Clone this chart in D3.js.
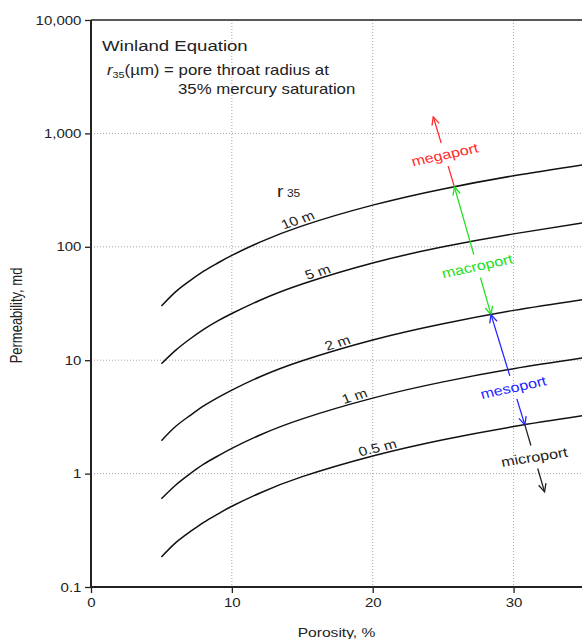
<!DOCTYPE html>
<html lang="en">
<head>
<meta charset="UTF-8">
<script src="https://cdnjs.cloudflare.com/ajax/libs/d3/7.8.5/d3.min.js"></script>
<style>
    body { margin: 0; background: #fff; }
    text { font-family: "Liberation Sans", Arial, sans-serif; fill: #222; }
</style>
</head>
<body>
<div id="plot"></div>
<script>
    // values (porosity %, permeability md)
    var porosity = [5, 6, 7, 8, 9, 10, 12, 15, 20, 25, 30, 35];
    var perm10 = [30, 40, 50, 61, 72, 84, 110, 153, 233, 324, 423, 530];
    var perm5 = [9.3, 12.2, 15.3, 18.7, 22.2, 25.8, 33.8, 47, 72, 100, 130, 163];
    var perm2 = [1.95, 2.6, 3.23, 3.95, 4.68, 5.45, 7.15, 9.9, 15.1, 21, 27.5, 34.4];
    var perm1 = [0.6, 0.79, 0.99, 1.21, 1.43, 1.67, 2.19, 3.04, 4.63, 6.44, 8.41, 10.5];
    var perm05 = [0.184, 0.245, 0.305, 0.372, 0.44, 0.515, 0.675, 0.94, 1.43, 1.99, 2.6, 3.25];
    var curveNames = ["10 m", "5 m", "2 m", "1 m", "0.5 m"];
    var xTicks = [0, 10, 20, 30];
    var yTicks = [0.1, 1, 10, 100, 1000, 10000];
    var yTickLabels = ["0.1", "1", "10", "100", "1,000", "10,000"];
    var arrowNames = ["megaport", "macroport", "mesoport", "microport"];
    var arrowFrom = [[25.8, 338], [25.8, 338], [28.4, 25.2], [30.8, 2.69]];
    var arrowTo = [[24.3, 1400], [28.4, 25.2], [30.8, 2.69], [32.2, 0.69]];

    // annotation layout
    var curveLabelAt = [14.9, 16.3, 17.7, 18.9, 20.5];
    var arrowColors = ["#ff2a2a", "#22e022", "#2626ff", "#222222"];
    var arrowHeads = [[false, true], [true, true], [true, true], [false, true]];
    var arrowLabelT = [0.46, 0.62, 0.66, 0.48];
    var arrowLabelAngle = [-12, -12, -12, -9];

    var W = 582, H = 639, SX = 1.2; // text is stretched sideways in the original
    var series = [perm10, perm5, perm2, perm1, perm05];

    var svg = d3.select("#plot").append("svg")
        .attr("width", W)
        .attr("height", H);

    var x = d3.scaleLinear().domain([0, 35]).range([91, 584]);
    var y = d3.scaleLog().domain([0.1, 10000]).range([587, 20]);

    // (1) grid ____________________________________
    var grid = svg.append("g")
        .attr("stroke", "#a8a8a8")
        .attr("stroke-width", 1)
        .attr("stroke-dasharray", "1,2");
    grid.selectAll("line.v")
        .data(xTicks.slice(1))
        .enter().append("line")
        .attr("x1", d => x(d)).attr("x2", d => x(d))
        .attr("y1", y(10000)).attr("y2", y(0.1));
    grid.selectAll("line.h")
        .data(yTicks.slice(1, -1))
        .enter().append("line")
        .attr("x1", x(0)).attr("x2", W)
        .attr("y1", d => y(d)).attr("y2", d => y(d));

    // (2) axes ____________________________________
    var yAxis = svg.append("g")
        .attr("transform", "translate(" + x(0) + ",0)")
        .call(d3.axisLeft(y).tickValues(yTicks).tickFormat((d, i) => yTickLabels[i]).tickSize(6).tickPadding(2))
        .call(g => g.select(".domain").remove());
    var xAxis = svg.append("g")
        .attr("transform", "translate(0," + y(0.1) + ")")
        .call(d3.axisBottom(x).tickValues(xTicks).tickSize(6).tickPadding(5))
        .call(g => g.select(".domain").remove());
    [yAxis, xAxis].forEach(function (a) {
        a.attr("font-family", null).attr("font-size", null);
        a.selectAll("line").attr("stroke", "#222").attr("stroke-width", 1.3);
        a.selectAll("text")
            .attr("transform", "scale(" + SX + ",1)")
            .style("font-size", "12.5px");
    });

    var frame = svg.append("g").attr("stroke", "#222").attr("fill", "none");
    frame.append("line").attr("x1", x(0)).attr("x2", W).attr("y1", y(0.1)).attr("y2", y(0.1)).attr("stroke-width", 2);
    frame.append("line").attr("x1", x(0)).attr("x2", x(0)).attr("y1", y(10000)).attr("y2", y(0.1)).attr("stroke-width", 2);
    frame.append("line").attr("x1", x(0)).attr("x2", W).attr("y1", y(10000)).attr("y2", y(10000)).attr("stroke-width", 1.6);

    svg.append("text")
        .attr("transform", "translate(22," + ((y(10000) + y(0.1)) / 2 + 12) + ") scale(" + SX + ",1) rotate(-90)")
        .attr("text-anchor", "middle")
        .style("font-size", "13px")
        .text("Permeability, md");
    svg.append("text")
        .attr("transform", "translate(" + ((x(0) + W) / 2) + ",637) scale(" + SX + ",1)")
        .attr("text-anchor", "middle")
        .style("font-size", "13px")
        .text("Porosity, %");

    // (3) curves __________________________________
    var line = d3.line()
        .x((d, i) => x(porosity[i]))
        .y(d => y(d))
        .curve(d3.curveNatural);
    svg.append("g")
        .selectAll("path")
        .data(series)
        .enter().append("path")
        .attr("d", d => line(d))
        .attr("fill", "none")
        .attr("stroke", "#111")
        .attr("stroke-width", 1.5);

    function kAt(s, p) {
        var i = d3.bisectRight(porosity, p) - 1;
        i = Math.max(0, Math.min(i, porosity.length - 2));
        var t = (p - porosity[i]) / (porosity[i + 1] - porosity[i]);
        var a = Math.log10(s[i]), b = Math.log10(s[i + 1]);
        return Math.pow(10, a + t * (b - a));
    }
    function stretched(px, py, angle) {
        var a0 = Math.atan(SX * Math.tan(angle * Math.PI / 180)) * 180 / Math.PI;
        return "translate(" + px + "," + py + ") scale(" + SX + ",1) rotate(" + a0 + ")";
    }

    curveNames.forEach(function (name, i) {
        var p = curveLabelAt[i], s = series[i];
        var x0 = x(p - 0.8), y0 = y(kAt(s, p - 0.8));
        var x1 = x(p + 0.8), y1 = y(kAt(s, p + 0.8));
        var ang = Math.atan2(y1 - y0, x1 - x0) * 180 / Math.PI;
        svg.append("text")
            .attr("transform", stretched(x(p), y(kAt(s, p)), ang))
            .attr("y", -2.5)
            .attr("text-anchor", "middle")
            .style("font-size", "13px")
            .text(name);
    });

    var r35 = svg.append("text")
        .attr("transform", "translate(" + x(13.2) + "," + y(275) + ") scale(" + SX + ",1)");
    r35.append("tspan").style("font-size", "16px").text("r");
    r35.append("tspan").attr("dx", 3).style("font-size", "10px").text("35");

    // (4) pore-type arrows ________________________
    var defs = svg.append("defs");
    arrowColors.forEach(function (c, i) {
        defs.append("marker")
            .attr("id", "head" + i)
            .attr("markerUnits", "userSpaceOnUse")
            .attr("viewBox", "-10 -5 12 10")
            .attr("refX", 0).attr("refY", 0)
            .attr("markerWidth", 12).attr("markerHeight", 10)
            .attr("orient", "auto-start-reverse")
            .append("path")
            .attr("d", "M-8,-3.8L0,0L-8,3.8")
            .attr("fill", "none")
            .attr("stroke", c)
            .attr("stroke-width", 1.3);
    });

    var gap = 12;
    arrowNames.forEach(function (name, i) {
        var ax = x(arrowFrom[i][0]), ay = y(arrowFrom[i][1]);
        var bx = x(arrowTo[i][0]), by = y(arrowTo[i][1]);
        var len = Math.hypot(bx - ax, by - ay);
        var ux = (bx - ax) / len, uy = (by - ay) / len;
        var t = arrowLabelT[i];
        var cx = ax + (bx - ax) * t, cy = ay + (by - ay) * t;
        var g = svg.append("g").attr("stroke", arrowColors[i]).attr("stroke-width", 1.3).attr("fill", "none");
        var s1 = g.append("line")
            .attr("x1", ax).attr("y1", ay)
            .attr("x2", cx - ux * gap).attr("y2", cy - uy * gap);
        var s2 = g.append("line")
            .attr("x1", cx + ux * gap).attr("y1", cy + uy * gap)
            .attr("x2", bx).attr("y2", by);
        if (arrowHeads[i][0]) s1.attr("marker-start", "url(#head" + i + ")");
        if (arrowHeads[i][1]) s2.attr("marker-end", "url(#head" + i + ")");
        svg.append("text")
            .attr("transform", stretched(cx, cy, arrowLabelAngle[i]))
            .attr("dy", "0.35em")
            .attr("text-anchor", "middle")
            .style("font-size", "13.5px")
            .style("fill", arrowColors[i])
            .text(name);
    });

    // (5) title block _____________________________
    svg.append("text")
        .attr("transform", "translate(102,51) scale(" + SX + ",1)")
        .style("font-size", "15.5px")
        .text("Winland Equation");
    var t2 = svg.append("text")
        .attr("transform", "translate(107,75) scale(" + SX + ",1)")
        .style("font-size", "14px");
    t2.append("tspan").style("font-style", "italic").text("r");
    t2.append("tspan").attr("dy", 2.5).style("font-size", "9px").text("35");
    t2.append("tspan").attr("dy", -2.5).text("(\u00b5m) = pore throat radius at");
    svg.append("text")
        .attr("transform", "translate(178,94) scale(" + SX + ",1)")
        .style("font-size", "14px")
        .text("35% mercury saturation");
</script>
</body>
</html>
